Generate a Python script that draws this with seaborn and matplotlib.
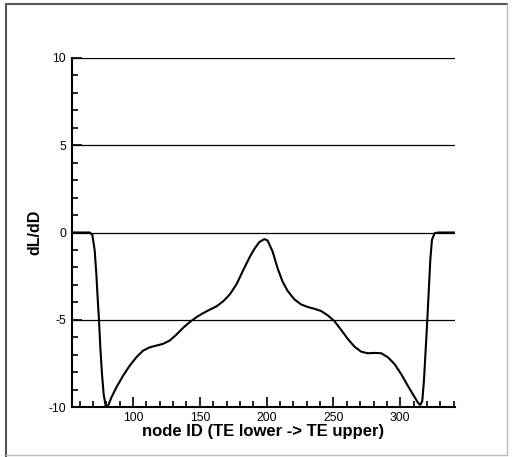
import matplotlib
matplotlib.use("Agg")
import matplotlib.pyplot as plt
import seaborn as sns
import pandas as pd
from matplotlib.lines import Line2D
from matplotlib.ticker import MultipleLocator

node_id = [54.3, 60, 65, 67.5, 69.5, 71.25, 72.5, 73.75, 74.5, 75.5, 76.75, 78,
           79.5, 81.25, 83.75, 87.5, 92.5, 97.5, 102.5, 107.5, 112.5, 117.5,
           122.5, 127.5, 132.5, 137.5, 142.5, 147.5, 152.5, 157.5, 162.5, 167.5,
           172.5, 177.5, 182.5, 187.5, 190.75, 194.5, 198.25, 200.75, 204.5,
           208.25, 212, 215.75, 220.75, 225.75, 230.75, 235.75, 240.75, 245.75,
           250.75, 255.75, 260.75, 265.75, 270.75, 275.75, 280.75, 285.75,
           290.75, 295.75, 300.75, 305.75, 310.25, 313.25, 315, 316.5, 317.75,
           319, 320.25, 321.5, 322.5, 323.75, 325.75, 328.25, 335, 341]
dldd = [0, 0, 0, 0, -0.13, -1.0, -2.35, -4.08, -5.0, -6.58, -8.12, -9.27,
        -9.94, -9.94, -9.46, -8.88, -8.21, -7.63, -7.15, -6.77, -6.58, -6.48,
        -6.38, -6.19, -5.85, -5.46, -5.13, -4.85, -4.62, -4.42, -4.23, -3.94,
        -3.54, -2.96, -2.15, -1.38, -0.95, -0.55, -0.38, -0.46, -1.1,
        -2.06, -2.83, -3.35, -3.83, -4.12, -4.27, -4.37, -4.5, -4.75,
        -5.08, -5.58, -6.1, -6.54, -6.83, -6.92, -6.9, -6.92,
        -7.15, -7.54, -8.12, -8.79, -9.37, -9.75, -9.88, -9.65, -8.5,
        -6.77, -5.04, -3.12, -1.58, -0.42, -0.04, 0, 0, 0]

x_label = "node ID (TE lower -> TE upper)"
y_label = "dL/dD"

sns.set_style("white")
plt.rcParams['font.family'] = ['Liberation Sans', 'DejaVu Sans']
plt.rcParams['axes.unicode_minus'] = False
plt.rcParams['text.color'] = 'black'
plt.rcParams['axes.labelcolor'] = 'black'
plt.rcParams['xtick.color'] = 'black'
plt.rcParams['ytick.color'] = 'black'

df = pd.DataFrame({"node": node_id, "val": dldd})

fig = plt.figure(figsize=(5.12, 4.57), dpi=100)
ax = fig.add_axes([72/512, 1-407/457, (455-72)/512, (407-58)/457])

for yv in [10, 5, 0, -5]:
    ax.axhline(yv, color="black", lw=0.9, zorder=1)

sns.lineplot(data=df, x="node", y="val", ax=ax, color="black", lw=1.5,
             sort=False, zorder=3)

ax.set_xlim(54.3, 341)
ax.set_ylim(-10, 10)
ax.set_xticks([100, 150, 200, 250, 300])
ax.set_yticks([-10, -5, 0, 5, 10])
ax.xaxis.set_minor_locator(MultipleLocator(10))
ax.yaxis.set_minor_locator(MultipleLocator(1))
ax.tick_params(which="both", direction="in", color="black", width=1.2,
               labelsize=8.7, labelcolor="black")
ax.tick_params(axis="x", which="major", pad=3.5)
ax.tick_params(axis="y", which="major", pad=4.3)
ax.tick_params(which="major", length=7)
ax.tick_params(which="minor", length=4)
ax.tick_params(axis="x", bottom=True, top=False, which="both")
ax.tick_params(axis="y", left=True, right=False, which="both")

for s in ["top", "right"]:
    ax.spines[s].set_visible(False)
for s in ["left", "bottom"]:
    ax.spines[s].set_color("black")
    ax.spines[s].set_linewidth(1.5)

ax.set_xlabel(x_label, fontsize=12, fontweight="bold", labelpad=0, color="black")
ax.set_ylabel(y_label, fontsize=11.5, fontweight="bold", labelpad=4.5, color="black")

# outer frame
fig.add_artist(Line2D([6/512, 6/512], [1-4/457, 0], transform=fig.transFigure, color="#555555", lw=1.5))
fig.add_artist(Line2D([6/512, 507/512], [1-4/457, 1-4/457], transform=fig.transFigure, color="#555555", lw=1.5))
fig.add_artist(Line2D([507/512, 507/512], [1-4/457, 1-455/457], transform=fig.transFigure, color="#bbbbbb", lw=1))
fig.add_artist(Line2D([6/512, 507/512], [1-455/457, 1-455/457], transform=fig.transFigure, color="#bbbbbb", lw=1))

fig.savefig("out.png", dpi=100)
